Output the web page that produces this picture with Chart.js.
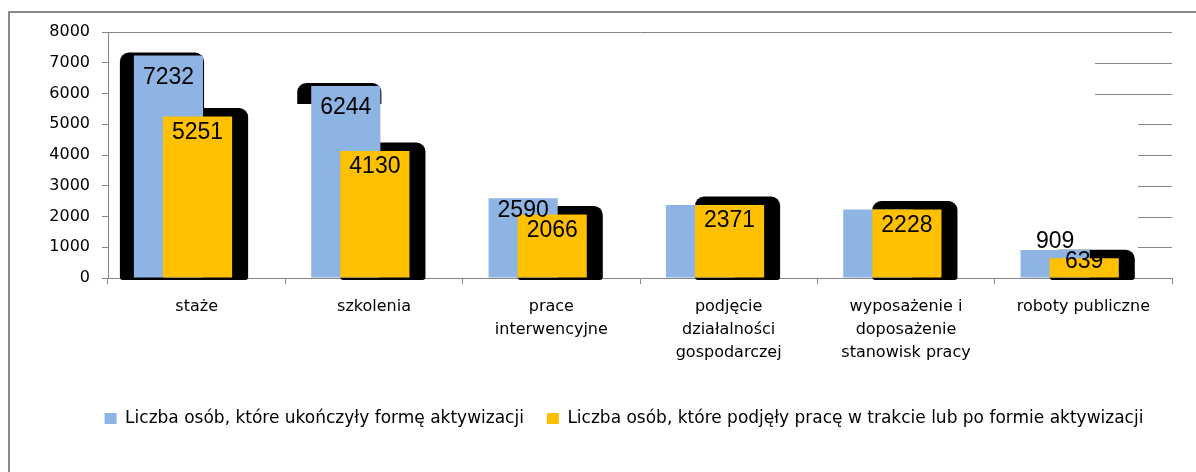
<!DOCTYPE html>
<html>
<head>
    <title>Formy aktywizacji</title>
    <style>
        body { margin: 0; background: #fff; overflow: hidden; }
        .frame {
            position: fixed; left: 8px; top: 11px; right: -20px; bottom: -20px;
            border-left: 2px solid #898989; border-top: 2px solid #898989;
        }
        #chart { position: absolute; left: 0; top: 0; }
    </style>
</head>
<body>
    <div class="frame"></div>
    <canvas id="chart" width="1196" height="472"></canvas>

    <script src="https://cdn.jsdelivr.net/npm/chart.js"></script>
    <script>
        // Data
        const categories = [
            ['staże'],
            ['szkolenia'],
            ['prace', 'interwencyjne'],
            ['podjęcie', 'działalności', 'gospodarczej'],
            ['wyposażenie i', 'doposażenie', 'stanowisk pracy'],
            ['roboty publiczne']
        ];
        const seriesNames = [
            'Liczba osób, które ukończyły formę aktywizacji',
            'Liczba osób, które podjęły pracę w trakcie lub po formie aktywizacji'
        ];
        const ukonczyly = [7232, 6244, 2590, 2371, 2228, 909];
        const podjely = [5251, 4130, 2066, 2371, 2228, 639];
        const yTicks = [0, 1000, 2000, 3000, 4000, 5000, 6000, 7000, 8000];

        // Styling
        const BLUE = '#8DB4E2';
        const YELLOW = '#FFC000';
        const AXIS = '#868686';
        const FONT = 'DejaVu Sans';
        const barShift = [-0.159, 0.005];          // offset of each series, in category widths
        const showBlueLabel = [true, true, true, false, false, true];
        const blueShadowDepth = [Infinity, 21, 0, 0, 0, 0];
        const stubLength = [0, 34, 34, 34, 34, 34, 77, 77, 0];  // short gridline pieces at right edge
        const legendShift = 38;

        // bars of the two series overlap instead of sitting side by side
        const overlapBars = {
            id: 'overlapBars',
            afterDatasetsUpdate(chart) {
                const catW = chart.scales.x.width / categories.length;
                barShift.forEach((shift, d) => {
                    chart.getDatasetMeta(d).data.forEach(bar => { bar.x += shift * catW; });
                });
            },
            afterLayout(chart) {
                chart.legend.left += legendShift;
                chart.legend.right += legendShift;
            }
        };

        // black rounded "shadows" behind the bars
        const shadows = {
            id: 'shadows',
            beforeDatasetsDraw(chart) {
                const ctx = chart.ctx;
                const blue = chart.getDatasetMeta(0).data;
                const yellow = chart.getDatasetMeta(1).data;
                ctx.save();
                ctx.fillStyle = '#000';
                yellow.forEach(bar => {
                    const l = bar.x - bar.width / 2;
                    ctx.beginPath();
                    ctx.roundRect(l, bar.y - 8.5, bar.width + 16, bar.base - bar.y + 11, [9, 9, 3, 3]);
                    ctx.fill();
                });
                blue.forEach((bar, i) => {
                    const depth = blueShadowDepth[i];
                    if (!depth) return;
                    const l = bar.x - bar.width / 2 - 14;
                    const full = bar.base - bar.y + 5.5;
                    const h = Math.min(depth, full);
                    ctx.beginPath();
                    ctx.roundRect(l, bar.y - 3, bar.width + 15, h, h === full ? [9, 9, 3, 3] : [9, 9, 0, 0]);
                    ctx.fill();
                });
                ctx.restore();
            }
        };

        const gridStubs = {
            id: 'gridStubs',
            beforeDatasetsDraw(chart) {
                const { ctx, chartArea, scales: { y } } = chart;
                ctx.save();
                ctx.strokeStyle = AXIS;
                ctx.lineWidth = 1;
                yTicks.forEach((v, i) => {
                    if (!stubLength[i]) return;
                    const py = Math.round(y.getPixelForValue(v)) + 0.5;
                    ctx.beginPath();
                    ctx.moveTo(chartArea.right - stubLength[i], py);
                    ctx.lineTo(chartArea.right, py);
                    ctx.stroke();
                });
                ctx.restore();
            }
        };

        const valueLabels = {
            id: 'valueLabels',
            afterDatasetsDraw(chart) {
                const ctx = chart.ctx;
                const blue = chart.getDatasetMeta(0).data;
                const yellow = chart.getDatasetMeta(1).data;
                ctx.save();
                ctx.font = '23px "Liberation Sans"';
                ctx.fillStyle = '#000';
                ctx.textAlign = 'center';
                ctx.textBaseline = 'middle';
                yellow.forEach((bar, i) => {
                    const yc = Math.min(bar.y + 16, bar.base - 15.5);
                    ctx.fillText(String(podjely[i]), bar.x, yc);
                    if (showBlueLabel[i]) {
                        const b = blue[i];
                        ctx.fillText(String(ukonczyly[i]), b.x, Math.min(b.y + 22, yc - 20));
                    }
                });
                ctx.restore();
            }
        };

        new Chart(document.getElementById('chart'), {
            type: 'bar',
            data: {
                labels: categories,
                datasets: [
                    { label: seriesNames[0], data: ukonczyly, backgroundColor: BLUE, order: 1 },
                    { label: seriesNames[1], data: podjely, backgroundColor: YELLOW, order: 0 }
                ]
            },
            options: {
                responsive: false,
                animation: false,
                devicePixelRatio: 1,
                layout: { padding: { left: 0, right: 24, top: 32, bottom: 35 } },
                datasets: { bar: { grouped: false, categoryPercentage: 1, barPercentage: 0.39 } },
                plugins: {
                    legend: {
                        position: 'bottom',
                        labels: {
                            boxWidth: 12, boxHeight: 11, padding: 23, color: '#000',
                            font: { family: FONT, size: 17 },
                            sort: (a, b) => a.datasetIndex - b.datasetIndex
                        }
                    },
                    tooltip: { enabled: false }
                },
                scales: {
                    x: {
                        grid: { drawOnChartArea: false, tickLength: 6, color: AXIS, offset: true },
                        border: { color: AXIS },
                        ticks: {
                            color: '#000', padding: 11, maxRotation: 0, autoSkip: false,
                            font: { family: FONT, size: 16, lineHeight: 1.45 }
                        },
                        afterFit: s => { s.height = 109; }
                    },
                    y: {
                        min: 0, max: 8000,
                        afterBuildTicks: s => { s.ticks = yTicks.map(v => ({ value: v })); },
                        ticks: {
                            color: '#000', padding: 12,
                            font: { family: FONT, size: 16 },
                            callback: v => String(v)
                        },
                        grid: {
                            color: c => (c.tick && c.tick.value === 8000 ? AXIS : 'rgba(0,0,0,0)'),
                            tickColor: AXIS, tickLength: 6
                        },
                        border: { color: AXIS },
                        afterFit: s => { s.width = 108; }
                    }
                }
            },
            plugins: [overlapBars, shadows, gridStubs, valueLabels]
        });
    </script>
</body>
</html>
